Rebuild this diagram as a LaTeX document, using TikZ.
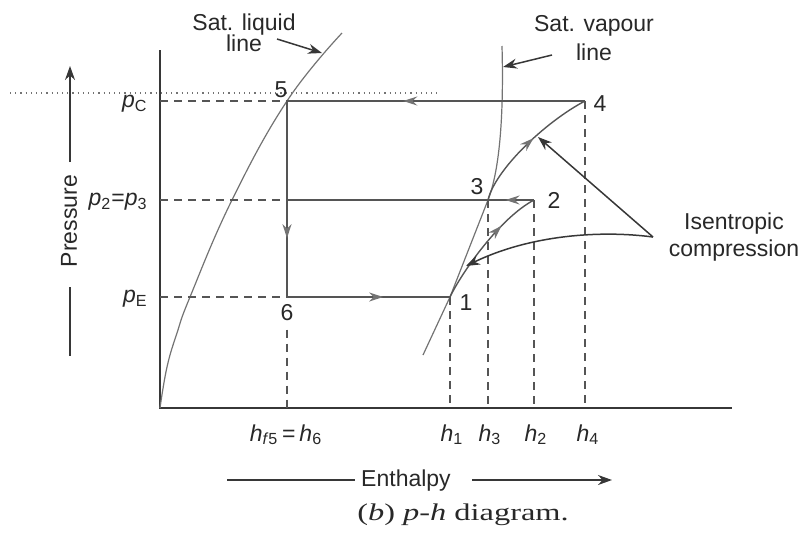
\documentclass[tikz,border=0pt]{standalone}
\usepackage{fontspec}
\setmainfont{Liberation Sans}
\newfontfamily\captionserif{Liberation Serif}
\usepackage{tikz}
\usetikzlibrary{arrows.meta, calc, decorations.markings}
\definecolor{mydark}{RGB}{55,55,55}
\definecolor{mygrey}{RGB}{85,85,85}
\definecolor{mylight}{RGB}{115,115,115}
\definecolor{mytext}{RGB}{40,40,40}
\tikzset{
  axisline/.style={line width=0.8pt, color=mydark},
  cycleline/.style={line width=0.7pt, color=mygrey},
  satcurve/.style={line width=0.6pt, color=mylight},
  dashline/.style={line width=0.7pt, color=mygrey, dash pattern=on 4pt off 3pt},
  guideline/.style={line width=0.6pt, color=mylight, dotted},
  pointer/.style={-{Stealth[length=7pt,width=5pt]}, line width=0.75pt, color=mydark},
  midarrow/.style={postaction={decorate}, decoration={markings,
    mark=at position #1 with {\arrow[color=mylight]{Stealth[length=7pt,width=4.5pt]}}}},
  statelbl/.style={font=\fontsize{11.5}{13.5}\selectfont, text=mytext, inner sep=1pt},
  axislbl/.style={font=\fontsize{11.5}{13.5}\selectfont, text=mytext, inner sep=1pt}
}

\begin{document}
\begin{tikzpicture}[x=0.5pt, y=-0.5pt]
  \useasboundingbox (0,0) rectangle (804,542);
  % state points of the cycle
  \coordinate (s1) at (450,297);
  \coordinate (s2) at (534,200);
  \coordinate (s3) at (488,200);
  \coordinate (s4) at (585,101);
  \coordinate (s5) at (287,101);
  \coordinate (s6) at (287,297);

  % axes
  \coordinate (o) at (160,408);
  \coordinate (ytop) at (160,50);
  \coordinate (xend) at (732,408);
  \draw[axisline] (ytop) -- (o) -- (xend);
  \coordinate (dotL) at (10,93);
  \coordinate (dotR) at (437,93);
  \draw[guideline] (dotL) -- (dotR);

  % saturation lines
  \draw[satcurve] plot[smooth, tension=0.7] coordinates
    {(160,408) (167,367) (177,333) (190,297) (232,200) (287,101) (342,33)};
  \draw[satcurve] (502,46) .. controls (504,120) and (499,172) .. (s3)
    -- (s1) -- (423,355);

  % pressure levels
  \node[axislbl, anchor=east] (pc) at (150,104) {\textit{p}\textsubscript{C}};
  \node[axislbl, anchor=east] (p23) at (150,202) {\textit{p}\textsubscript{2}=\textit{p}\textsubscript{3}};
  \node[axislbl, anchor=east] (pe) at (150,299) {\textit{p}\textsubscript{E}};
  \draw[dashline] (ytop |- s5) -- (s5);
  \draw[dashline] (ytop |- s3) -- (s5 |- s3);
  \draw[dashline] (ytop |- s6) -- (s6);
  \draw[cycleline] (s5 |- s3) -- (s3);

  % cycle
  \draw[cycleline, midarrow=0.61] (s4) -- (s5);
  \draw[cycleline, midarrow=0.70] (s5) -- (s6);
  \draw[cycleline, midarrow=0.59] (s6) -- (s1);
  \draw[cycleline, midarrow=0.62] (s2) -- (s3);
  \draw[cycleline, midarrow=0.68] (s1) .. controls (462,272) and (500,218) .. (s2);
  \draw[cycleline, midarrow=0.55] (s3) .. controls (495,170) and (545,122) .. (s4);

  % state numbers
  \node[statelbl] (n1) at (466,303) {1};
  \node[statelbl] (n2) at (554,200) {2};
  \node[statelbl] (n3) at (477,187) {3};
  \node[statelbl] (n4) at (600,104) {4};
  \node[statelbl] (n5) at (281,90) {5};
  \node[statelbl] (n6) at (287,313) {6};

  % enthalpy drops
  \draw[dashline, shorten <=3pt] (n6.south) -- (s6 |- o);
  \foreach \s in {s1,s3,s2,s4}
    \draw[dashline] (\s) -- (\s |- o);
  \node[axislbl, anchor=base] (hf) at (286,441) {\textit{h}\textsubscript{\textit{f}5}\,=\,\textit{h}\textsubscript{6}};
  \node[axislbl, anchor=base] (h1) at (452,441) {\textit{h}\textsubscript{1}};
  \node[axislbl, anchor=base] (h3) at (490,441) {\textit{h}\textsubscript{3}};
  \node[axislbl, anchor=base] (h2) at (536,441) {\textit{h}\textsubscript{2}};
  \node[axislbl, anchor=base] (h4) at (588,441) {\textit{h}\textsubscript{4}};

  % axis titles
  \node[axislbl, rotate=90] (plbl) at (69,221) {Pressure};
  \coordinate (ptail) at (70,162);
  \coordinate (ptip) at (70,66);
  \coordinate (pbotA) at (70,287);
  \coordinate (pbotB) at (70,356);
  \draw[pointer] (ptail) -- (ptip);
  \draw[axisline] (pbotA) -- (pbotB);
  \node[axislbl] (hlbl) at (406,481) {Enthalpy};
  \coordinate (hlineA) at (227,480);
  \coordinate (hlineB) at (355,480);
  \coordinate (harrA) at (472,480);
  \coordinate (harrB) at (612,480);
  \draw[axisline] (hlineA) -- (hlineB);
  \draw[pointer] (harrA) -- (harrB);

  % callouts
  \node[axislbl, align=center] (liqlbl) at (244,33) {Sat. liquid\\[-3pt]line};
  \coordinate (liqtail) at (277,39);
  \coordinate (liqtip) at (322,53);
  \draw[pointer] (liqtail) -- (liqtip);
  \node[axislbl, align=center] (vaplbl) at (594,38) {Sat. vapour\\[1pt]line};
  \coordinate (vaptail) at (552,55);
  \coordinate (vaptip) at (503,67);
  \draw[pointer] (vaptail) -- (vaptip);
  \node[axislbl, align=center] (isenlbl) at (734,237) {Isentropic\\compression};
  \coordinate (isenv) at (653,237);
  \coordinate (isentipA) at (538,137);
  \coordinate (isentipB) at (466,266);
  \draw[pointer] (isenv) -- (isentipA);
  \draw[pointer] (isenv) .. controls (600,230) and (530,235) .. (isentipB);

  % caption
  \node[font=\captionserif\fontsize{12}{14}\selectfont, text=mytext, xscale=1.35, transform shape]
    (cap) at (463,515) {(\textit{b}) \textit{p}-\textit{h} diagram.};
\end{tikzpicture}
\end{document}
